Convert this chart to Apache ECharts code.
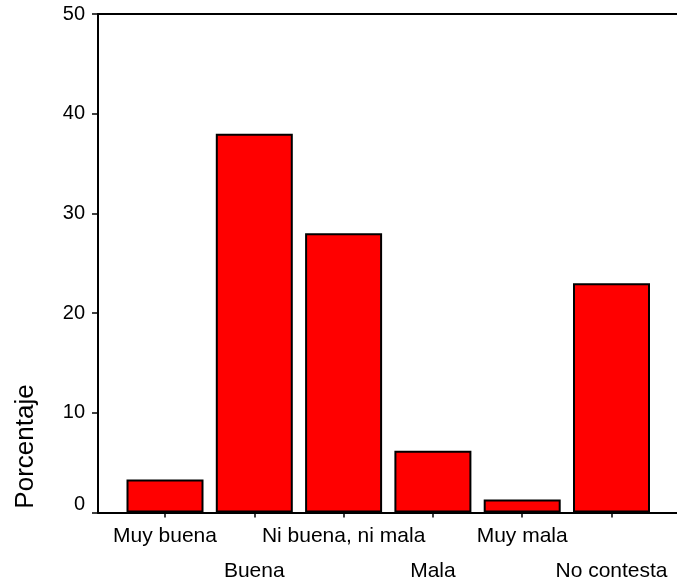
<!DOCTYPE html>
<html>
<head>
<meta charset="utf-8">
<script src="https://cdn.jsdelivr.net/npm/echarts@6/dist/echarts.min.js"></script>
<style>
html,body{margin:0;padding:0;background:#fff;}
#chart{width:677px;height:584px;}
</style>
</head>
<body>
<div id="chart"></div>
<script>
var categories = ['Muy buena', 'Buena', 'Ni buena, ni mala', 'Mala', 'Muy mala', 'No contesta'];
var percentages = [3.3, 38.0, 28.0, 6.2, 1.3, 23.0];
var yTicks = [0, 10, 20, 30, 40, 50];
var yTitle = 'Porcentaje';

var FONT = '"Liberation Sans", Arial, sans-serif';
var chart = echarts.init(document.getElementById('chart'), null, {renderer: 'canvas'});
chart.setOption({
  animation: false,
  backgroundColor: '#ffffff',
  grid: [
    {left: 98, right: 0, top: 14, bottom: 71.5},
    {left: 120.35, right: 20.85, top: 14, bottom: 71.5}
  ],
  xAxis: [
    {gridIndex: 0, type: 'category', data: [''], position: 'bottom',
     axisLine: {show: true, lineStyle: {color: '#000', width: 2}},
     axisTick: {show: false}, axisLabel: {show: false}, splitLine: {show: false}},
    {gridIndex: 0, type: 'category', data: [''], position: 'top',
     axisLine: {show: true, lineStyle: {color: '#000', width: 2}},
     axisTick: {show: false}, axisLabel: {show: false}, splitLine: {show: false}},
    {gridIndex: 1, type: 'category', data: categories, position: 'bottom',
     axisLine: {show: false},
     axisTick: {show: true, alignWithLabel: true, length: 5, lineStyle: {color: '#000', width: 1.5}},
     axisLabel: {
       interval: 0, margin: 14, color: '#000', fontFamily: FONT, fontSize: 21,
       formatter: function (v, i) { return i % 2 ? '{b|' + v + '}' : '{a|' + v + '}'; },
       rich: {
         a: {fontFamily: FONT, fontSize: 21, color: '#000', lineHeight: 20},
         b: {fontFamily: FONT, fontSize: 21, color: '#000', lineHeight: 20, padding: [70, 0, 0, 0]}
       }
     },
     splitLine: {show: false}}
  ],
  yAxis: [
    {gridIndex: 0, type: 'value', min: yTicks[0], max: yTicks[yTicks.length - 1], interval: 10,
     axisLine: {show: true, lineStyle: {color: '#000', width: 2}},
     axisTick: {show: true, inside: false, length: 6, lineStyle: {color: '#000', width: 1.5}},
     axisLabel: {
       margin: 13, color: '#000', fontFamily: FONT, fontSize: 20,
       formatter: function (v) { return v === 0 ? '{z|0}' : '{n|' + v + '}'; },
       rich: {
         z: {fontFamily: FONT, fontSize: 20, color: '#000', padding: [0, 0, 16, 0]},
         n: {fontFamily: FONT, fontSize: 20, color: '#000'}
       }
     },
     splitLine: {show: false}},
    {gridIndex: 1, type: 'value', min: yTicks[0], max: yTicks[yTicks.length - 1], interval: 10, show: false,
     splitLine: {show: false}}
  ],
  graphic: [
    {type: 'text', x: 26, y: 446.5, rotation: Math.PI / 2,
     style: {text: yTitle, font: '26px ' + FONT, fill: '#000', align: 'center', verticalAlign: 'middle'}}
  ],
  series: [
    {type: 'bar', xAxisIndex: 2, yAxisIndex: 1, data: percentages, barWidth: 77,
     itemStyle: {color: '#ff0000', borderColor: '#000', borderWidth: 2},
     z: 1}
  ]
});
</script>
</body>
</html>
